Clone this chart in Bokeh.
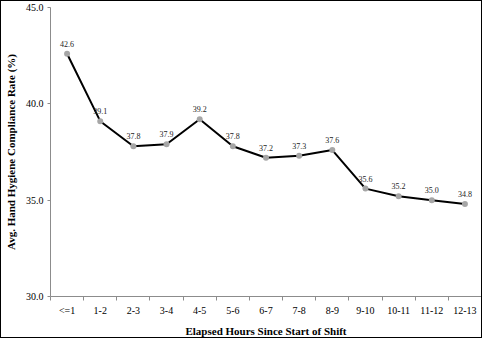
from bokeh.plotting import figure
from bokeh.models import ColumnDataSource, LabelSet, FixedTicker, Range1d
from bokeh.embed import file_html
from bokeh.resources import INLINE

categories = ["<=1", "1-2", "2-3", "3-4", "4-5", "5-6", "6-7", "7-8", "8-9",
              "9-10", "10-11", "11-12", "12-13"]
compliance = [42.6, 39.1, 37.8, 37.9, 39.2, 37.8, 37.2, 37.3, 37.6,
              35.6, 35.2, 35.0, 34.8]
y_ticks = [30.0, 35.0, 40.0, 45.0]

xs = list(range(len(categories)))
src = ColumnDataSource(dict(x=xs, y=compliance,
                            lbl=["%.1f" % v for v in compliance]))

p = figure(width=482, height=338, output_backend="svg", toolbar_location=None,
           x_range=Range1d(-0.5, len(categories) - 0.5),
           y_range=Range1d(y_ticks[0], y_ticks[-1]),
           min_border_left=40, min_border_right=2, min_border_top=6,
           min_border_bottom=36)
p.styles = {"border": "1px solid black"}
p.outline_line_color = None
p.xgrid.visible = False
p.ygrid.visible = False
p.background_fill_color = "white"
p.border_fill_color = "white"

p.line("x", "y", source=src, line_color="black", line_width=2)
p.scatter("x", "y", source=src, size=6, fill_color="#a6a6a6", line_color=None)

labels = LabelSet(x="x", y="y", text="lbl", source=src, y_offset=7,
                  text_align="center", text_baseline="bottom",
                  text_font="Liberation Sans", text_font_size="8px",
                  text_color="#222222")
p.add_layout(labels)

# x axis
p.xaxis.ticker = FixedTicker(ticks=xs,
                             minor_ticks=[i - 0.5 for i in range(len(categories) + 1)])
p.xaxis.major_label_overrides = {i: c for i, c in enumerate(categories)}
p.xaxis.major_tick_out = 0
p.xaxis.major_tick_in = 0
p.xaxis.minor_tick_out = 4
p.xaxis.minor_tick_in = 0
p.xaxis.axis_label = "Elapsed Hours Since Start of Shift"

# y axis
p.yaxis.ticker = FixedTicker(ticks=y_ticks, minor_ticks=[])
p.yaxis.major_label_overrides = {t: "%.1f" % t for t in y_ticks}
p.yaxis.major_tick_out = 3
p.yaxis.major_tick_in = 0
p.yaxis.minor_tick_out = 0
p.yaxis.minor_tick_in = 0
p.yaxis.axis_label = "Avg. Hand Hygiene Compliance Rate (%)"

for ax in (p.xaxis, p.yaxis):
    ax.axis_line_color = "#8c8c8c"
    ax.major_tick_line_color = "#8c8c8c"
    ax.minor_tick_line_color = "#8c8c8c"
    ax.major_label_text_font = "Liberation Serif"
    ax.major_label_text_font_size = "10px"
    ax.major_label_text_color = "black"
    ax.major_label_standoff = 4
    ax.axis_label_text_font = "Liberation Serif"
    ax.axis_label_text_font_style = "bold"
    ax.axis_label_text_font_size = "11px"
    ax.axis_label_text_color = "black"
    ax.axis_label_standoff = 6

open("out.html", "w").write(file_html(p, INLINE))
